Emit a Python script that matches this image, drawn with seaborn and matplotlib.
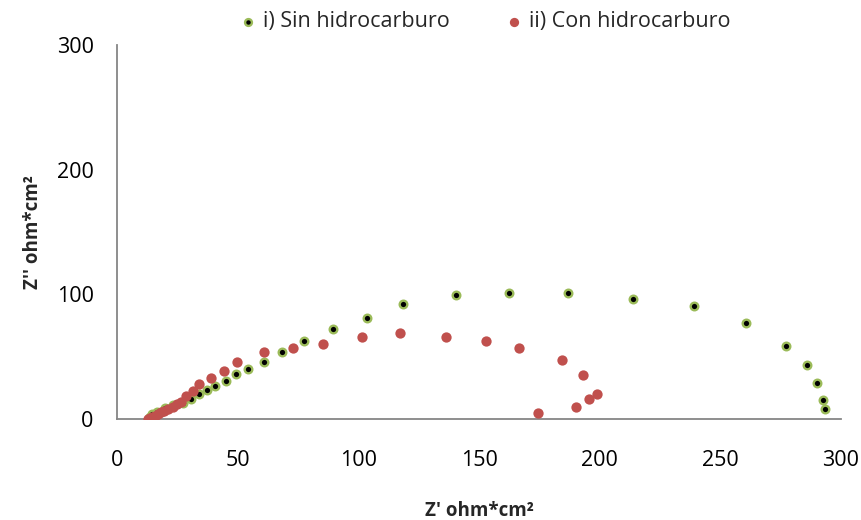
import matplotlib
matplotlib.use("Agg")
import matplotlib.pyplot as plt
import pandas as pd
import seaborn as sns

# Nyquist data (Z' vs Z'', ohm*cm2)
SIN_X = [13.0, 13.5, 14.5, 14.3, 16.4, 19.8, 23.1, 27.3, 30.6, 33.9, 37.2,
         40.5, 45.0, 49.3, 54.4, 60.9, 68.2, 77.6, 89.6, 103.7, 118.6,
         140.3, 162.4, 187.0, 213.9, 239.3, 260.7, 277.4, 286.0, 290.0,
         292.5, 293.3]
SIN_Y = [0.5, 1.5, 3.0, 4.0, 5.9, 8.8, 11.2, 13.1, 16.3, 20.0, 23.3,
         26.5, 30.7, 36.1, 40.3, 45.9, 54.0, 62.8, 71.9, 81.2, 92.0,
         99.7, 101.0, 101.0, 96.5, 90.4, 76.7, 58.3, 43.1, 29.1,
         15.5, 7.8]

CON_X = [12.6, 13.5, 14.3, 15.5, 16.9, 18.0, 19.4, 21.0, 23.1, 25.0, 26.3,
         28.5, 31.4, 34.0, 38.8, 44.3, 49.7, 60.9, 72.8, 85.4, 101.5,
         117.2, 136.3, 152.9, 166.5, 184.5, 193.2, 199.0, 195.7, 190.2,
         174.3]
CON_Y = [0.0, 0.7, 1.4, 2.8, 4.0, 5.5, 6.7, 8.3, 9.9, 12.0, 13.4,
         18.4, 22.5, 28.1, 32.6, 38.3, 46.0, 54.0, 56.7, 59.9, 66.0,
         69.2, 66.0, 62.8, 56.7, 47.6, 35.3, 20.0, 15.8, 9.4,
         4.6]

X_TICKS = [0, 50, 100, 150, 200, 250, 300]
Y_TICKS = [0, 100, 200, 300]

GREEN = "#9BBB59"
RED = "#C0504D"
AXIS_GRAY = "#868686"

sns.set_style("white")
plt.rcParams["font.family"] = ["Open Sans", "DejaVu Sans"]

sin = pd.DataFrame({"zr": SIN_X, "zi": SIN_Y})
con = pd.DataFrame({"zr": CON_X, "zi": CON_Y})

fig = plt.figure(figsize=(8.61, 5.2), dpi=100)
ax = fig.add_axes([0.1361, 0.1942, 0.8405, 0.7193])

sns.scatterplot(data=sin, x="zr", y="zi", ax=ax, color="black", s=30,
                edgecolor=GREEN, linewidth=1.7, label="i) Sin hidrocarburo",
                zorder=3)
sns.scatterplot(data=con, x="zr", y="zi", ax=ax, color=RED, s=55,
                edgecolor=RED, linewidth=0, label="ii) Con hidrocarburo",
                zorder=4)

ax.set_xlim(0, 300)
ax.set_ylim(0, 300)
ax.set_xticks(X_TICKS)
ax.set_yticks(Y_TICKS)
ax.tick_params(axis="x", length=0, pad=22, labelsize=15.5, colors="black")
ax.tick_params(axis="y", length=0, pad=17, labelsize=15.5, colors="black")

for side in ("top", "right"):
    ax.spines[side].set_visible(False)
for side in ("left", "bottom"):
    ax.spines[side].set_color(AXIS_GRAY)
    ax.spines[side].set_linewidth(1.3)

ax.set_xlabel("Z' ohm*cm²", fontsize=13.5, fontweight="bold", labelpad=22)
ax.set_ylabel("Z'' ohm*cm²", fontsize=13.5, fontweight="bold", labelpad=10)

ax.legend(loc="center", bbox_to_anchor=(0.505, 1.062), ncol=2, frameon=False,
          fontsize=15.5, markerscale=0.9, handletextpad=0.1, columnspacing=2.4,
          handlelength=1.2)

fig.savefig("out.png", dpi=100)
